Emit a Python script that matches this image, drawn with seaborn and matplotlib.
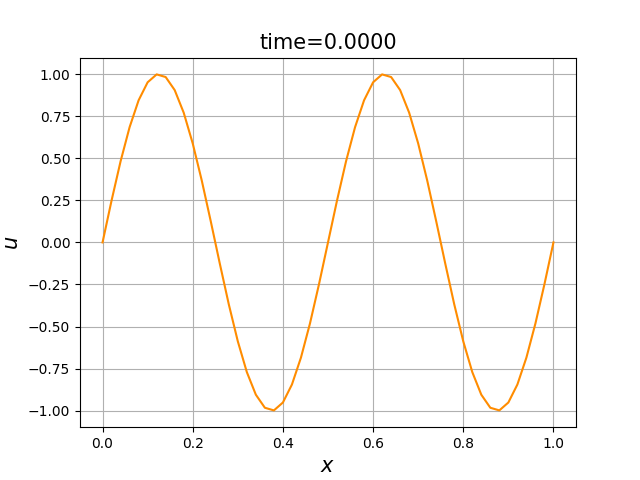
import matplotlib
matplotlib.use("Agg")
import matplotlib.pyplot as plt
import seaborn as sns
import pandas as pd

x_vals = [round(0.02 * i, 2) for i in range(51)]
half_wave = [0.0, 0.2487, 0.4818, 0.6845, 0.8443, 0.9511, 0.9980, 0.9823, 0.9048, 0.7705,
             0.5878, 0.3681, 0.1253, -0.1253, -0.3681, -0.5878, -0.7705, -0.9048, -0.9823,
             -0.9980, -0.9511, -0.8443, -0.6845, -0.4818, -0.2487]
u_vals = half_wave + half_wave + [0.0]

df = pd.DataFrame({"x": x_vals, "u": u_vals})

fig, ax = plt.subplots(figsize=(6.4, 4.8), dpi=100)
sns.lineplot(data=df, x="x", y="u", color="darkorange", ax=ax, linewidth=1.5)
ax.grid(True)
ax.set_title("time=0.0000", fontsize=15)
ax.set_xlabel("$x$", fontsize=15)
ax.set_ylabel("$u$", fontsize=15)
fig.savefig("out.png", dpi=100)
